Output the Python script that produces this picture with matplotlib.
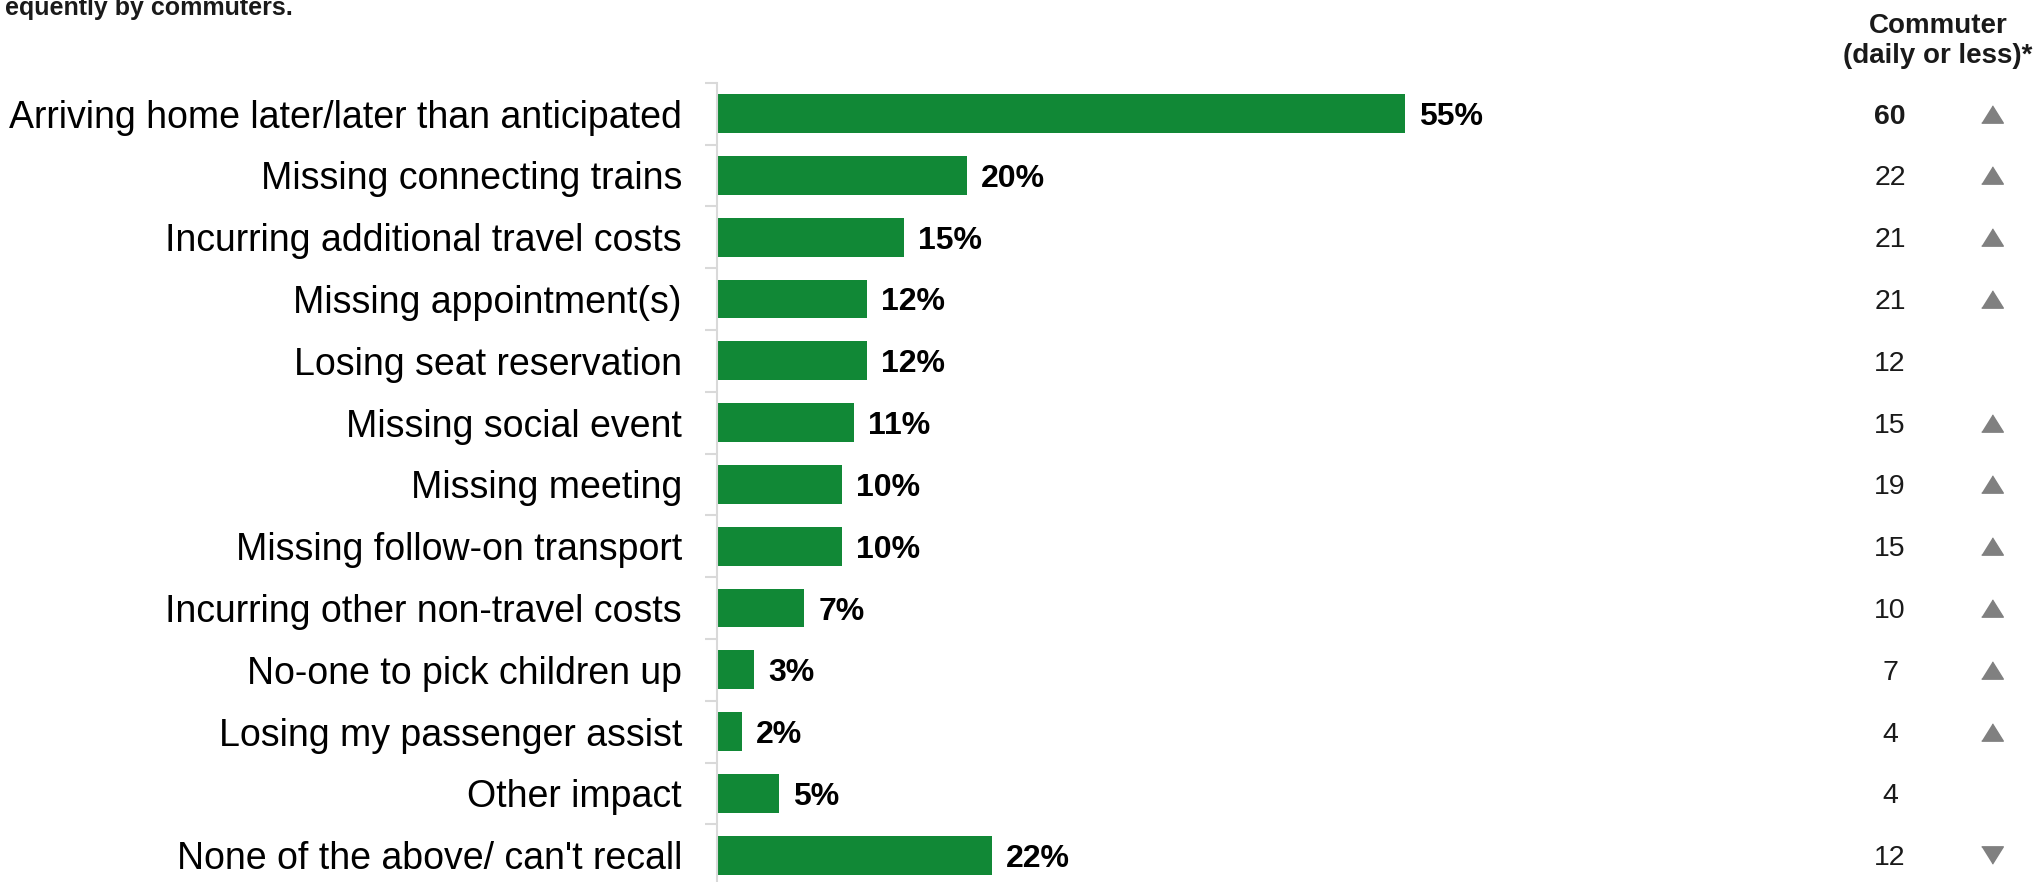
import matplotlib
matplotlib.use("Agg")
import matplotlib.pyplot as plt
import matplotlib.transforms as mtransforms
import numpy as np

plt.rcParams["font.family"] = ["Liberation Sans", "DejaVu Sans"]

impacts = [
    "Arriving home later/later than anticipated",
    "Missing connecting trains",
    "Incurring additional travel costs",
    "Missing appointment(s)",
    "Losing seat reservation",
    "Missing social event",
    "Missing meeting",
    "Missing follow-on transport",
    "Incurring other non-travel costs",
    "No-one to pick children up",
    "Losing my passenger assist",
    "Other impact",
    "None of the above/ can't recall",
]
all_pct = [55, 20, 15, 12, 12, 11, 10, 10, 7, 3, 2, 5, 22]
commuter_pct = [60, 22, 21, 21, 12, 15, 19, 15, 10, 7, 4, 4, 12]
commuter_trend = ["up", "up", "up", "up", "", "up", "up", "up", "up", "up", "up", "", "down"]

W, H = 2044, 882
fig = plt.figure(figsize=(W / 100, H / 100), dpi=100)

# axes placed in pixels: spine at x=717, first row boundary 83px from top
row_h = 61.8
top_px = 82.7
ax_left, ax_w = 716.7, 1000
ax_h = row_h * len(impacts)
ax = fig.add_axes([ax_left / W, (H - top_px - ax_h) / H, ax_w / W, ax_h / H])

y = np.arange(len(impacts))
bars = ax.barh(y, all_pct, height=0.63, color="#118836")
ax.set_xlim(0, ax_w / 12.51)
ax.set_ylim(len(impacts) - 0.5, -0.5)

for yy, v in zip(y, all_pct):
    ax.annotate(f"{v}%", (v, yy), xytext=(10, 0), textcoords="offset points",
                ha="left", va="center_baseline", fontsize=23, fontweight="bold",
                color="black")

ax.set_yticks(y)
ax.set_yticklabels(impacts, fontsize=27, color="black")
ax.tick_params(axis="y", which="major", length=0, pad=25)
ax.set_yticks(np.arange(-0.5, len(impacts)), minor=True)
ax.tick_params(axis="y", which="minor", length=8.6, width=1.5, color="#d9d9d9")
ax.xaxis.set_visible(False)
for side in ["top", "right", "bottom"]:
    ax.spines[side].set_visible(False)
ax.spines["left"].set_color("#d9d9d9")
ax.spines["left"].set_linewidth(1.5)

# commuter column on the right
col_tr = mtransforms.blended_transform_factory(fig.transFigure, ax.transData)
num_x = 1890 / W
tri_x = 1992 / W
tri_up = [(-1, -0.8), (1, -0.8), (0, 0.8)]
tri_down = [(-1, 0.8), (1, 0.8), (0, -0.8)]
for i, (v, t) in enumerate(zip(commuter_pct, commuter_trend)):
    fig.text(num_x, i, str(v), transform=col_tr, ha="center", va="center_baseline",
             fontsize=20.5, fontweight="bold" if i == 0 else "normal", color="#1a1a1a")
    if t:
        ax.plot([tri_x], [i], transform=col_tr, marker=tri_up if t == "up" else tri_down,
                markersize=15.6, color="#808080", clip_on=False)

fig.text(1938 / W, 1 - 41 / H, "Commuter\n(daily or less)*", ha="center", va="center",
         fontsize=20, fontweight="bold", color="#1a1a1a", linespacing=1.2)

# title line running off the top of the canvas
fig.text(5 / W, 1 - 15 / H, "equently by commuters.", ha="left", va="baseline",
         fontsize=18, fontweight="bold", color="#1a1a1a")

fig.savefig("out.png", dpi=100)
